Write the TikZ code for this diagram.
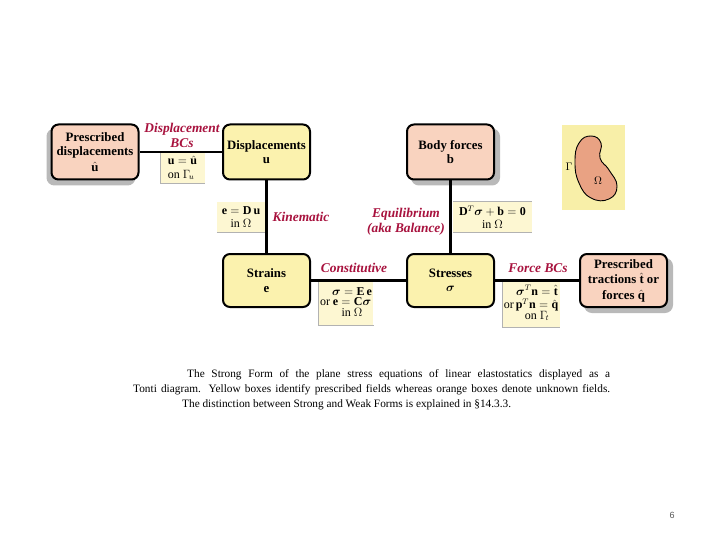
\documentclass[tikz,border=0pt]{standalone}
\usepackage{amsmath,bm}
\usepackage{fontspec}
\setmainfont{Liberation Serif}
\setsansfont{Liberation Sans}
\usetikzlibrary{shadows}
\definecolor{orangebox}{HTML}{F9D3BF}
\definecolor{yellowbox}{HTML}{FBF2AE}
\definecolor{eqyellow}{HTML}{FDF7D2}
\definecolor{labelred}{HTML}{A8123E}
\definecolor{blobfill}{HTML}{E9A283}
\definecolor{omegabg}{HTML}{F8EFA8}
\tikzset{
  bigbox/.style={draw=black, line width=2pt, rounded corners=7pt, minimum width=87pt, minimum height=55pt, align=center, font=\fontsize{12.8}{14.5}\selectfont\bfseries, inner sep=1pt},
  shadowR/.style={general shadow={fill=gray!55, draw=gray!55, shadow xshift=5pt, shadow yshift=-5pt}},
  shadowL/.style={general shadow={fill=gray!55, draw=gray!55, shadow xshift=-4pt, shadow yshift=-5pt}},
  eqbox/.style={fill=eqyellow, inner sep=1.5pt, align=center, font=\fontsize{12}{12.5}\selectfont},
  lab/.style={text=labelred, font=\fontsize{13.4}{15}\selectfont\bfseries\itshape, align=center},
  conn/.style={line width=2.4pt},
  eqedge/.style={draw=gray!60, line width=0.6pt},
  captext/.style={anchor=west, font=\fontsize{11.3}{12}\selectfont, inner sep=0pt}
}
\begin{document}
\begin{tikzpicture}[x=1pt,y=-1pt]
\useasboundingbox[fill=white] (0,0) rectangle (720,540);
% big boxes
\node[bigbox, shadowL, fill=orangebox] (pd) at (95,152) {Prescribed\\displacements\\[1pt]$\hat{\mathbf{u}}$};
\node[bigbox, fill=yellowbox] (disp) at (266.5,152) {Displacements\\$\mathbf{u}$};
\node[bigbox, shadowR, fill=orangebox] (body) at (450.5,152) {Body forces\\$\mathbf{b}$};
\node[bigbox, fill=yellowbox, minimum height=53pt] (strain) at (266.5,280.5) {Strains\\$\mathbf{e}$};
\node[bigbox, fill=yellowbox, minimum height=53pt] (stress) at (450.5,280.5) {Stresses\\$\boldsymbol{\sigma}$};
\node[bigbox, shadowR, fill=orangebox, minimum height=53pt, font=\fontsize{12.8}{15.5}\selectfont\bfseries] (trac) at (623.5,280.5) {Prescribed\\tractions $\hat{\mathbf{t}}$ or\\forces $\hat{\mathbf{q}}$};
% equation boxes
\node[eqbox, minimum width=45pt, minimum height=31pt, align=left] (e1) at (182.5,168) {$\mathbf{u}=\hat{\mathbf{u}}$\\[1pt]on $\Gamma_{\!u}$};
\node[eqbox, minimum width=48pt, minimum height=30pt] (e2) at (241,217) {$\mathbf{e}=\mathbf{D}\,\mathbf{u}$\\in $\Omega$};
\node[eqbox, minimum width=79pt, minimum height=30pt] (e3) at (492.5,217) {$\mathbf{D}^T\boldsymbol{\sigma}+\mathbf{b}=\mathbf{0}$\\in $\Omega$};
\node[eqbox, minimum width=52pt, minimum height=44pt] (e4) at (346,303) {\begin{tabular}{@{}l@{\,}c@{}} & $\boldsymbol{\sigma}=\mathbf{E}\,\mathbf{e}$\\[-2pt] or & $\mathbf{e}=\mathbf{C}\boldsymbol{\sigma}$\\[-2pt] & in $\Omega$\end{tabular}};
\node[eqbox, minimum width=50pt, minimum height=46pt] (e5) at (531,304) {\begin{tabular}{@{}l@{\,}c@{}} & $\boldsymbol{\sigma}^T\mathbf{n}=\hat{\mathbf{t}}$\\[0pt] or & $\mathbf{p}^T\mathbf{n}=\hat{\mathbf{q}}$\\[-2pt] & on $\Gamma_{\!t}$\end{tabular}};
\draw[eqedge] (e1.north west) -- (e1.south west) -- (e1.south east);
\draw[eqedge] (e2.south west) -- (e2.south east);
\draw[eqedge] (e3.north west) -- (e3.north east) (e3.south west) -- (e3.south east);
\draw[eqedge] (e4.north west) -- (e4.south west) -- (e4.south east);
\draw[eqedge] (e5.north west) -- (e5.south west) -- (e5.south east);
% connectors
\draw[conn] (pd) -- (disp);
\draw[conn] (disp) -- (strain);
\draw[conn] (body) -- (stress);
\draw[conn] (strain) -- (stress);
\draw[conn] (stress) -- (trac);
% labels
\node[lab] (l1) at (182,135) {Displacement\\BCs};
\node[lab] (l2) at (301,217) {Kinematic};
\node[lab] (l3) at (406,222) {Equilibrium\\(aka Balance)};
\node[lab] (l4) at (354,268) {Constitutive};
\node[lab] (l5) at (538,268) {Force BCs};
% domain figure
\fill[omegabg] (562,125) rectangle (625,210);
\filldraw[fill=blobfill, draw=black, line width=0.9pt] plot[smooth cycle, tension=0.8] coordinates {(591,136) (601,143) (600,158) (609,170) (617,186) (609,199) (591,198) (579,183) (575,162) (579,143)};
\node[font=\fontsize{11}{12}\selectfont] (gam) at (569,167) {$\Gamma$};
\node[font=\fontsize{11}{12}\selectfont] (om) at (598,181) {$\Omega$};
% caption
\node[captext] (c1) at (187,375) {\hbox to 423pt{The Strong Form of the plane stress equations of linear elastostatics displayed as a}};
\node[captext] (c2) at (133,390) {\hbox to 477pt{Tonti diagram. Yellow boxes identify prescribed fields whereas orange boxes denote unknown fields.}};
\node[captext] (c3) at (182,405) {The distinction between Strong and Weak Forms is explained in \S14.3.3.};
\node[font=\sffamily\fontsize{9}{10}\selectfont, text=gray!70!black] (pg) at (672,515) {6};
\end{tikzpicture}
\end{document}
